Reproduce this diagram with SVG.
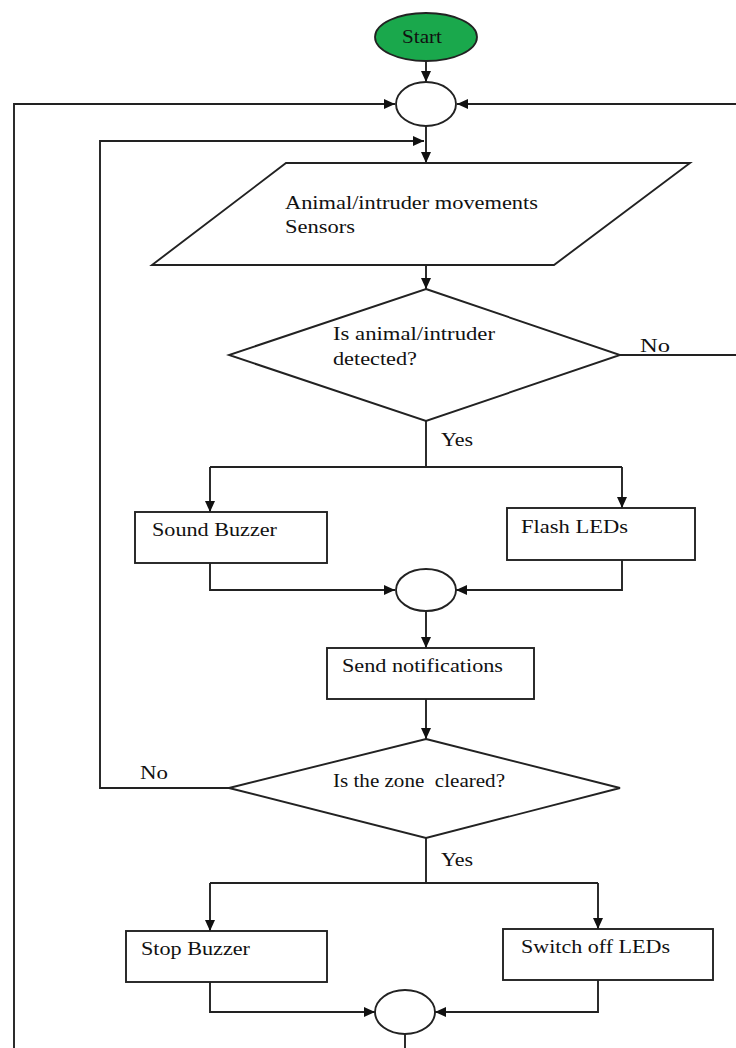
<svg xmlns="http://www.w3.org/2000/svg" width="736" height="1048" viewBox="0 0 736 1048">
<style>
.s{fill:#fff;stroke:#222;stroke-width:1.9}
.c{fill:none;stroke:#222;stroke-width:1.9}
text{font-family:"Liberation Serif","Times New Roman",serif;font-size:19px;fill:#111;white-space:pre}
</style>
<defs>
<marker id="a" viewBox="0 0 11 10" refX="11" refY="5" markerWidth="11" markerHeight="10" markerUnits="userSpaceOnUse" orient="auto">
<path d="M0,0 L11,5 L0,10 z" fill="#111"/>
</marker>
</defs>
<rect width="736" height="1048" fill="#fff"/>
<g id="connectors">
<path class="c" d="M426,61 V82" marker-end="url(#a)"/>
<path class="c" d="M14,1048 V104 H395" marker-end="url(#a)"/>
<path class="c" d="M736,104 H457" marker-end="url(#a)"/>
<path class="c" d="M426,126 V163" marker-end="url(#a)"/>
<path class="c" d="M229,788 H100 V141 H424" marker-end="url(#a)"/>
<path class="c" d="M426,265 V289" marker-end="url(#a)"/>
<path class="c" d="M620,355 H736"/>
<path class="c" d="M426,421 V467"/>
<path class="c" d="M210,467 H622"/>
<path class="c" d="M210,467 V512" marker-end="url(#a)"/>
<path class="c" d="M622,467 V508" marker-end="url(#a)"/>
<path class="c" d="M210,563 V590 H395" marker-end="url(#a)"/>
<path class="c" d="M622,560 V590 H456" marker-end="url(#a)"/>
<path class="c" d="M426,611 V648" marker-end="url(#a)"/>
<path class="c" d="M426,699 V739" marker-end="url(#a)"/>
<path class="c" d="M426,838 V883"/>
<path class="c" d="M210,883 H598"/>
<path class="c" d="M210,883 V931" marker-end="url(#a)"/>
<path class="c" d="M598,883 V929" marker-end="url(#a)"/>
<path class="c" d="M210,982 V1012 H375" marker-end="url(#a)"/>
<path class="c" d="M598,980 V1012 H435" marker-end="url(#a)"/>
<path class="c" d="M405,1034 V1048"/>
</g>
<g id="start">
<ellipse cx="426" cy="37" rx="51" ry="24" fill="#1aa84c" stroke="#222" stroke-width="1.8"/>
<text x="402" y="43" textLength="40" lengthAdjust="spacingAndGlyphs" font-size="16">Start</text>
</g>
<g id="junction1"><ellipse class="s" cx="426" cy="104" rx="30" ry="22"/></g>
<g id="sensors">
<polygon class="s" points="286,163 690,163 554,265 152,265"/>
<text x="285" y="209" textLength="253" lengthAdjust="spacingAndGlyphs">Animal/intruder movements</text>
<text x="285" y="233" textLength="70" lengthAdjust="spacingAndGlyphs">Sensors</text>
</g>
<g id="detect">
<polygon class="s" points="426,289 620,355 426,421 229,355"/>
<text x="333" y="340" textLength="162" lengthAdjust="spacingAndGlyphs">Is animal/intruder</text>
<text x="333" y="365" textLength="84" lengthAdjust="spacingAndGlyphs">detected?</text>
</g>
<g id="label-no1"><text x="640" y="352" textLength="30" lengthAdjust="spacingAndGlyphs">No</text></g>
<g id="label-yes1"><text x="441" y="446" textLength="32" lengthAdjust="spacingAndGlyphs">Yes</text></g>
<g id="buzzer">
<rect class="s" x="135" y="512" width="192" height="51"/>
<text x="152" y="536" textLength="125" lengthAdjust="spacingAndGlyphs">Sound Buzzer</text>
</g>
<g id="leds">
<rect class="s" x="507" y="508" width="188" height="52"/>
<text x="521" y="533" textLength="107" lengthAdjust="spacingAndGlyphs">Flash LEDs</text>
</g>
<g id="junction2"><ellipse class="s" cx="426" cy="590" rx="30" ry="21"/></g>
<g id="notify">
<rect class="s" x="327" y="648" width="207" height="51"/>
<text x="342" y="672" textLength="161" lengthAdjust="spacingAndGlyphs">Send notifications</text>
</g>
<g id="cleared">
<polygon class="s" points="426,739 620,788 426,838 229,788"/>
<text x="333" y="787" textLength="172" lengthAdjust="spacingAndGlyphs">Is the zone  cleared?</text>
</g>
<g id="label-no2"><text x="140" y="779" textLength="28" lengthAdjust="spacingAndGlyphs">No</text></g>
<g id="label-yes2"><text x="441" y="866" textLength="32" lengthAdjust="spacingAndGlyphs">Yes</text></g>
<g id="stopbuzzer">
<rect class="s" x="126" y="931" width="201" height="51"/>
<text x="141" y="955" textLength="109" lengthAdjust="spacingAndGlyphs">Stop Buzzer</text>
</g>
<g id="switchoff">
<rect class="s" x="503" y="929" width="210" height="51"/>
<text x="521" y="953" textLength="149" lengthAdjust="spacingAndGlyphs">Switch off LEDs</text>
</g>
<g id="junction3"><ellipse class="s" cx="405" cy="1012" rx="30" ry="22"/></g>
</svg>
